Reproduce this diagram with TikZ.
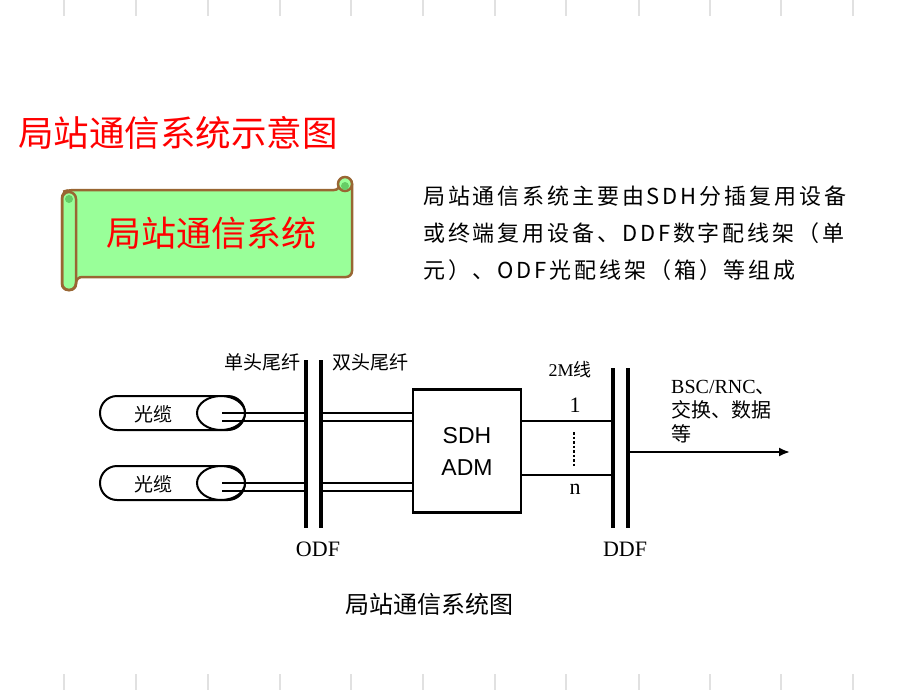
\documentclass[tikz,border=0pt]{standalone}
\usepackage{fontspec}
\setmainfont{Liberation Serif}
\newfontfamily\cjk{Noto Sans CJK SC}
\newfontfamily\cjkwide[LetterSpace=13]{Noto Sans CJK SC}
\usetikzlibrary{arrows.meta, positioning}
\definecolor{scrollgreen}{RGB}{153, 255, 153}
\definecolor{scrolldark}{RGB}{102, 204, 102}
\definecolor{scrollbrown}{RGB}{153, 102, 51}
\definecolor{tickgray}{RGB}{225, 225, 225}
\begin{document}
\begin{tikzpicture}[
    x=1pt, y=-1pt,
    bar/.style={line width=3.5pt},
    fibre/.style={line width=2pt},
    cable/.style={draw, line width=2pt, rounded corners=17pt},
    cjklabel/.style={font=\cjk\fontsize{19}{22}\selectfont, inner sep=1pt},
    latinlabel/.style={font=\fontsize{22}{24}\selectfont, inner sep=1pt},
    arrow/.style={-{Latex[length=11pt,width=9pt]}, line width=2pt}
]
\useasboundingbox (0,0) rectangle (920,690);

% faint ticks at top and bottom
\foreach \tx in {64,136,208,280,351,423,495,566,639,710,781,853} {
  \draw[tickgray, line width=2pt] (\tx,0) -- (\tx,16);
  \draw[tickgray, line width=2pt] (\tx,674) -- (\tx,690);
}

% title
\node[anchor=west, text=red, font=\cjk\fontsize{35.5}{40}\selectfont, inner sep=0pt] (title) at (18,133) {局站通信系统示意图};

% scroll
\draw[scrollbrown, fill=scrollgreen, line width=2.5pt, rounded corners=6pt]
  (69,190) -- (340,190) -- (340,178) -- (352,178) -- (352,277) -- (76,277) -- (76,290) -- (62,290) -- (62,192) -- cycle;
\draw[scrollbrown, line width=2.5pt, rounded corners=7pt] (62,192) rectangle (76,290);
\fill[scrolldark] (69,199) circle (4);
\draw[scrollbrown, line width=2.5pt] (76,198) -- (76,277);
\draw[scrollbrown, fill=scrollgreen, line width=2.5pt] (345,184) circle (7);
\fill[scrolldark] (345,186) circle (4);
\node[text=red, font=\cjk\fontsize{35}{38}\selectfont] (scrolltext) at (211,233) {局站通信系统};

% description
\node[anchor=north west, align=left, font=\cjkwide\fontsize{22}{37}\selectfont, inner sep=0pt] (desc) at (423,186)
  {局站通信系统主要由SDH分插复用设备\\或终端复用设备、DDF数字配线架（单\\元）、ODF光配线架（箱）等组成};

% cables
\foreach \cy/\nm in {413/cabA, 483/cabB} {
  \draw[cable] (100,\cy-17) rectangle (245,\cy+17);
  \draw[line width=2pt, fill=white] (221,\cy) ellipse (24 and 17);
  \node[cjklabel] (\nm) at (153,\cy+1) {光缆};
  \draw[fibre] (222,\cy) -- (306,\cy);
  \draw[fibre] (222,\cy+8) -- (306,\cy+8);
  \draw[fibre] (321,\cy) -- (413,\cy);
  \draw[fibre] (321,\cy+8) -- (413,\cy+8);
}

% ODF
\draw[bar] (306,360) -- (306,528);
\draw[bar] (321,360) -- (321,528);
\node[cjklabel, anchor=east] (single) at (302,362) {单头尾纤};
\node[cjklabel, anchor=west] (double) at (331,362) {双头尾纤};
\node[latinlabel] (odf) at (318,549) {ODF};

% SDH
\node[draw, line width=2.5pt, minimum width=108pt, minimum height=123pt, align=center,
      font=\fontsize{23}{32}\selectfont, inner sep=0pt] (sdh) at (467,451)
  {\fontspec{Liberation Sans}SDH\\\fontspec{Liberation Sans}ADM};

% DDF
\draw[bar] (613,368) -- (613,528);
\draw[bar] (628,368) -- (628,528);
\draw[fibre] (sdh.east |- 0,421) -- (613,421);
\draw[fibre] (sdh.east |- 0,475) -- (613,475);
\draw[line width=2.5pt, dotted] (574,432) -- (574,466);
\node[latinlabel] (one) at (575,405) {1};
\node[latinlabel] (enn) at (575,489) {n};
\node[font=\cjk\fontsize{18}{20}\selectfont, inner sep=1pt] (twoM) at (570,370) {\fontspec{Liberation Serif}2M\cjk 线};
\node[latinlabel] (ddf) at (625,549) {DDF};
\coordinate (dest) at (790,452);
\draw[arrow] (628,452) -- (dest);
\node[anchor=north west, align=left, inner sep=0pt, font=\cjk\fontsize{20}{24}\selectfont] (bsc) at (671,380)
  {\fontspec{Liberation Serif}BSC/RNC\cjk 、\\交换、数据\\等};

% caption
\node[font=\cjk\fontsize{24}{28}\selectfont] (caption) at (429,604) {局站通信系统图};
\end{tikzpicture}
\end{document}
